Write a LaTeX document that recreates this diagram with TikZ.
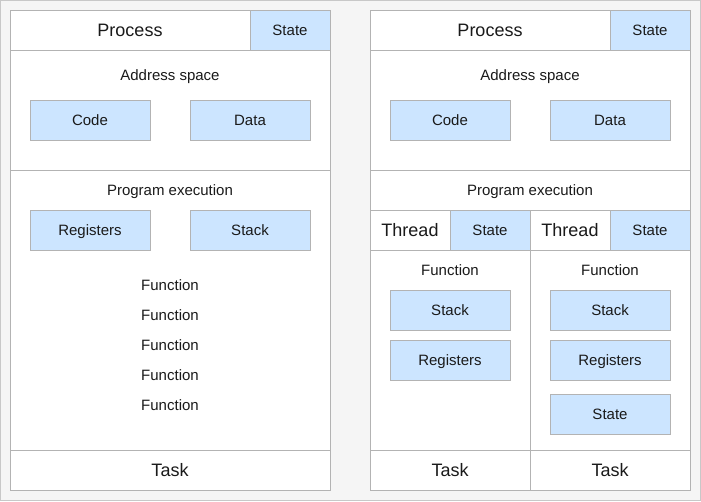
\documentclass[tikz,border=0pt]{standalone}
\usepackage{fontspec}
\setmainfont{Liberation Sans}
\definecolor{bd}{HTML}{B3B3B3}
\definecolor{fillb}{HTML}{CCE5FF}
\definecolor{bg}{HTML}{F5F5F5}
\definecolor{outer}{HTML}{C8C8C8}
\definecolor{txt}{HTML}{1A1A1A}
\tikzset{
  base/.style={inner sep=0pt, outer sep=0pt, line width=1pt, text=txt,
    font=\fontsize{15}{18}\selectfont, text height=13.6pt, text depth=3.2pt},
  cell/.style={base, draw=bd, fill=white},
  bluebox/.style={base, draw=bd, fill=fillb},
  big/.style={font=\fontsize{18}{21}\selectfont, text height=16.3pt, text depth=3.8pt},
  lbl/.style={base}
}
\newcommand\bx[7]{\node[#1,anchor=north west,minimum width={(#4-#2)*1pt},minimum height={(#5-#3)*1pt}] (#6) at (#2,#3) {#7};}
\begin{document}
\begin{tikzpicture}[x=1pt,y=-1pt]
\useasboundingbox (0,0) rectangle (701,501);
\fill[bg, draw=outer, line width=1pt] (0.5,0.5) rectangle (700.5,500.5);
% ---- left panel ----
\bx{cell,big}{10}{10}{250}{50}{Lproc}{Process}
\bx{bluebox}{250}{10}{330}{50}{Lstate}{State}
\bx{cell}{10}{50}{330}{170}{Las}{}
\node[lbl] (Last) at (170,75) {Address space};
\bx{bluebox}{30}{100}{150}{140}{Lcode}{Code}
\bx{bluebox}{190}{100}{310}{140}{Ldata}{Data}
\bx{cell}{10}{170}{330}{450}{Lpe}{}
\node[lbl] (Lpet) at (170,190) {Program execution};
\bx{bluebox}{30}{210}{150}{250}{Lreg}{Registers}
\bx{bluebox}{190}{210}{310}{250}{Lstack}{Stack}
\node[lbl] (Lf1) at (170,285) {Function};
\node[lbl] (Lf2) at (170,315) {Function};
\node[lbl] (Lf3) at (170,345) {Function};
\node[lbl] (Lf4) at (170,375) {Function};
\node[lbl] (Lf5) at (170,405) {Function};
\bx{cell,big}{10}{450}{330}{490}{Ltask}{Task}
% ---- right panel ----
\bx{cell,big}{370}{10}{610}{50}{Rproc}{Process}
\bx{bluebox}{610}{10}{690}{50}{Rstate}{State}
\bx{cell}{370}{50}{690}{170}{Ras}{}
\node[lbl] (Rast) at (530,75) {Address space};
\bx{bluebox}{390}{100}{510}{140}{Rcode}{Code}
\bx{bluebox}{550}{100}{670}{140}{Rdata}{Data}
\bx{cell}{370}{170}{690}{210}{Rpe}{Program execution}
\bx{cell,big}{370}{210}{450}{250}{Tha}{Thread}
\bx{bluebox}{450}{210}{530}{250}{Thas}{State}
\bx{cell,big}{530}{210}{610}{250}{Thb}{Thread}
\bx{bluebox}{610}{210}{690}{250}{Thbs}{State}
\bx{cell}{370}{250}{530}{450}{Fa}{}
\node[lbl] (Fat) at (450,270) {Function};
\bx{bluebox}{390}{290}{510}{330}{Fastack}{Stack}
\bx{bluebox}{390}{340}{510}{380}{Fareg}{Registers}
\bx{cell}{530}{250}{690}{450}{Fb}{}
\node[lbl] (Fbt) at (610,270) {Function};
\bx{bluebox}{550}{290}{670}{330}{Fbstack}{Stack}
\bx{bluebox}{550}{340}{670}{380}{Fbreg}{Registers}
\bx{bluebox}{550}{394}{670}{434}{Fbstate}{State}
\bx{cell,big}{370}{450}{530}{490}{Rtaska}{Task}
\bx{cell,big}{530}{450}{690}{490}{Rtaskb}{Task}
\end{tikzpicture}
\end{document}
